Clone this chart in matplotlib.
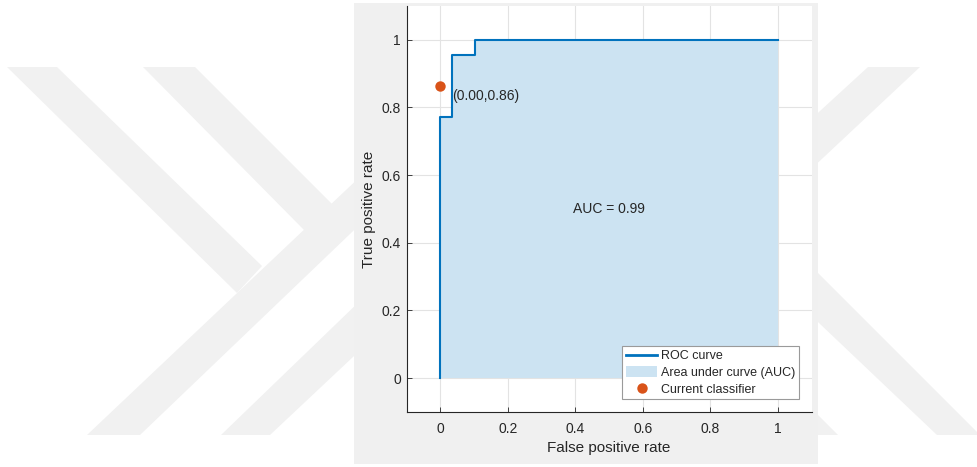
import matplotlib
matplotlib.use('Agg')
import matplotlib.pyplot as plt
from matplotlib.patches import Polygon, Rectangle
from matplotlib.lines import Line2D
from matplotlib.patches import Patch
import numpy as np

plt.rcParams['font.family'] = ['Liberation Sans', 'DejaVu Sans']

# ROC curve
fpr = [0.0, 0.0, 0.0345, 0.0345, 0.1034, 0.1034, 1.0]
tpr = [0.0, 0.773, 0.773, 0.955, 0.955, 1.0, 1.0]

# operating point of the current classifier
op_fpr = 0.0
op_tpr = 0.864

legend_labels = ['ROC curve', 'Area under curve (AUC)', 'Current classifier']
x_label = 'False positive rate'
y_label = 'True positive rate'
ticks = [0, 0.2, 0.4, 0.6, 0.8, 1]
tick_labels = ['0', '0.2', '0.4', '0.6', '0.8', '1']

auc = np.trapezoid(tpr, fpr)

blue = '#0072BD'
orange = '#D95319'
ink = '#262626'

fig = plt.figure(figsize=(9.78, 4.67), dpi=100)
fig.patch.set_facecolor('white')

# background watermark, in pixel coordinates of the page
bg = fig.add_axes([0, 0, 1, 1])
bg.set_xlim(0, 978)
bg.set_ylim(467, 0)
bg.axis('off')
bands = [
    [(7, 67), (57, 67), (262, 266), (237, 293)],
    [(87, 435), (140, 435), (420, 167), (420, 120)],
    [(143, 67), (195, 67), (335, 207), (306, 232)],
    [(221, 435), (270, 435), (420, 294), (420, 243)],
    [(868, 67), (920, 67), (760, 217), (760, 166)],
    [(760, 215), (980, 435), (937, 435), (760, 267)],
    [(760, 357), (838, 435), (788, 435), (740, 387)],
]
for b in bands:
    bg.add_patch(Polygon(b, closed=True, facecolor='#F1F1F1', edgecolor='none'))
# grey figure panel
bg.add_patch(Rectangle((354, 3), 464, 461, facecolor='#F0F0F0', edgecolor='none'))

ax = fig.add_axes([0.4158, 0.1178, 0.4141, 0.8694])
ax.set_facecolor('white')

ax.grid(True, color='#E3E3E3', linewidth=0.8, zorder=0)
ax.set_axisbelow(True)

ax.fill_between(fpr, tpr, 0, color='#CCE3F2', linewidth=0, zorder=1)
ax.plot(fpr, tpr, color=blue, linewidth=1.5, zorder=3)
ax.plot(op_fpr, op_tpr, 'o', color=orange, markersize=7.5, markeredgewidth=0, zorder=4)

ax.text(op_fpr + 0.035, op_tpr - 0.031, '({:.2f},{:.2f})'.format(op_fpr, op_tpr),
        fontsize=10, color=ink, ha='left', va='center', zorder=5)
ax.text(0.5, 0.5, 'AUC = {:.2f}'.format(auc), fontsize=10, color=ink,
        ha='center', va='center', zorder=5)

ax.set_xlim(-0.1, 1.1)
ax.set_ylim(-0.1, 1.1)
ax.set_xticks(ticks)
ax.set_xticklabels(tick_labels)
ax.set_yticks(ticks)
ax.set_yticklabels(tick_labels)

for side in ['top', 'right']:
    ax.spines[side].set_visible(False)
for side in ['left', 'bottom']:
    ax.spines[side].set_color(ink)
    ax.spines[side].set_linewidth(0.8)

ax.tick_params(direction='in', length=3.5, width=0.6, color=ink,
               labelcolor=ink, labelsize=10)
ax.tick_params(axis='x', pad=7)
ax.tick_params(axis='y', pad=4)

ax.set_xlabel(x_label, fontsize=11, color=ink, labelpad=4)
ax.set_ylabel(y_label, fontsize=11, color=ink, labelpad=4)

handles = [
    Line2D([], [], color=blue, linewidth=2),
    Patch(facecolor='#CCE3F2', edgecolor='none'),
    Line2D([], [], marker='o', linestyle='none', color=orange,
           markersize=7.5, markeredgewidth=0),
]
leg = ax.legend(handles, legend_labels, loc='lower right', fontsize=9,
                frameon=True, fancybox=False, framealpha=1,
                edgecolor='#9A9A9A', borderaxespad=1.0, borderpad=0.3,
                handlelength=2.5, handleheight=1.0, handletextpad=0.3,
                labelspacing=0.3, labelcolor=ink)
leg.get_frame().set_linewidth(0.8)
leg.set_zorder(6)

fig.savefig('out.png', dpi=100)
